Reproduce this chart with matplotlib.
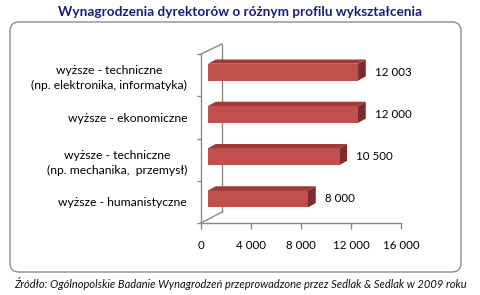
"""Wynagrodzenia dyrektorów -- pseudo-3D horizontal bar chart (Excel style)."""

import matplotlib
matplotlib.use("Agg")
import matplotlib.pyplot as plt
from matplotlib.patches import FancyBboxPatch, Polygon
from matplotlib.transforms import IdentityTransform

# --- data ------------------------------------------------------------------
CATEGORIES = [
    "wyższe - techniczne\n(np. elektronika, informatyka)",
    "wyższe - ekonomiczne",
    "wyższe - techniczne\n(np. mechanika,  przemysł)",
    "wyższe - humanistyczne",
]
VALUES = [12003, 12000, 10500, 8000]
VALUE_LABELS = ["12 003", "12 000", "10 500", "8 000"]
X_TICKS = [0, 4000, 8000, 12000, 16000]
X_TICK_LABELS = ["0", "4 000", "8 000", "12 000", "16 000"]

TITLE = "Wynagrodzenia dyrektorów o różnym profilu wykształcenia"
SOURCE = ("Źródło: Ogólnopolskie Badanie Wynagrodzeń przeprowadzone przez "
          "Sedlak & Sedlak w 2009 roku")

# --- style -----------------------------------------------------------------
FRONT = "#c0504d"
TOP = "#9c3b39"
SIDE = "#7a2d2b"
WALL = "#8a8a8a"
TITLE_C = "#1c1c7c"
FONT = "Lato"

W, H = 480, 295
BAR_LEFT = 560      # bars sit slightly in front of the back wall
BAR_H = 0.40
BAR_LIFT = 0.07
DX, DY = 620, 0.10  # bar depth (data units)
WALL_DX, WALL_DY_TOP, WALL_DY_BOT = 1680, 0.237, 0.26

plt.rcParams["font.family"] = [FONT, "DejaVu Sans"]

fig = plt.figure(figsize=(W / 100, H / 100), dpi=100)
fig.patch.set_facecolor("white")

# rounded chart-area border, in pixels
fig.patches.append(FancyBboxPatch(
    (10, H - 272), 451, 250, boxstyle="round,pad=0,rounding_size=9",
    transform=IdentityTransform(), facecolor="none", edgecolor="#8c8c8c",
    linewidth=1.0))

fig.text(0.5, 1 - 12 / H, TITLE, ha="center", va="center", fontsize=9.8,
         fontweight="bold", color=TITLE_C)
fig.text(0.5, 1 - 284 / H, SOURCE, ha="center", va="center", fontsize=8.0,
         style="italic", color="#111111")

ax = fig.add_axes([201 / W, 72 / H, 200 / W, 169 / H])
ax.set_xlim(0, 16000)
ax.set_ylim(-0.5, 3.5)
ax.patch.set_visible(False)

n = len(CATEGORIES)
ypos = [n - 1 - i for i in range(n)]

# back wall + floor edges
top, bot = 3.5, -0.5
ax.plot([0, WALL_DX], [top, top + WALL_DY_TOP], color=WALL, lw=1, clip_on=False)
ax.plot([WALL_DX, WALL_DX], [top + WALL_DY_TOP, bot + WALL_DY_BOT], color=WALL,
        lw=1, clip_on=False)
ax.plot([0, WALL_DX], [bot, bot + WALL_DY_BOT], color=WALL, lw=1, clip_on=False)

for y, v, lab in zip(ypos, VALUES, VALUE_LABELS):
    yc = y + BAR_LIFT
    y0, y1 = yc - BAR_H / 2, yc + BAR_H / 2
    x1 = BAR_LEFT + v
    ax.barh(yc, v, left=BAR_LEFT, height=BAR_H, color=FRONT, edgecolor="none",
            zorder=3)
    ax.add_patch(Polygon([(BAR_LEFT, y1), (x1, y1), (x1 + DX, y1 + DY),
                          (BAR_LEFT + DX, y1 + DY)], closed=True,
                         facecolor=TOP, edgecolor="none", zorder=3))
    ax.add_patch(Polygon([(x1, y0), (x1, y1), (x1 + DX, y1 + DY),
                          (x1 + DX, y0 + DY)], closed=True,
                         facecolor=SIDE, edgecolor="none", zorder=3))
    ax.annotate(lab, (x1 + DX, yc), textcoords="offset pixels", xytext=(9, 0),
                ha="left", va="center", fontsize=8.3, color="black")

for side in ("top", "right"):
    ax.spines[side].set_visible(False)
for side in ("left", "bottom"):
    ax.spines[side].set_color(WALL)
    ax.spines[side].set_linewidth(1)

ax.set_xticks(X_TICKS, X_TICK_LABELS)
ax.tick_params(axis="x", direction="out", length=4, width=1, color=WALL,
               pad=8.5, labelsize=8.3, labelcolor="black")

ax.set_yticks(ypos, CATEGORIES)
ax.set_yticks([i - 0.5 for i in range(n + 1)], minor=True)
ax.tick_params(axis="y", which="major", length=0, pad=10, labelsize=8.7,
               labelcolor="black")
ax.tick_params(axis="y", which="minor", direction="out", length=3, width=1,
               color=WALL)
for t in ax.get_yticklabels():
    t.set_multialignment("center")
    t.set_linespacing(1.45)

fig.savefig("out.png", dpi=100, facecolor="white")
